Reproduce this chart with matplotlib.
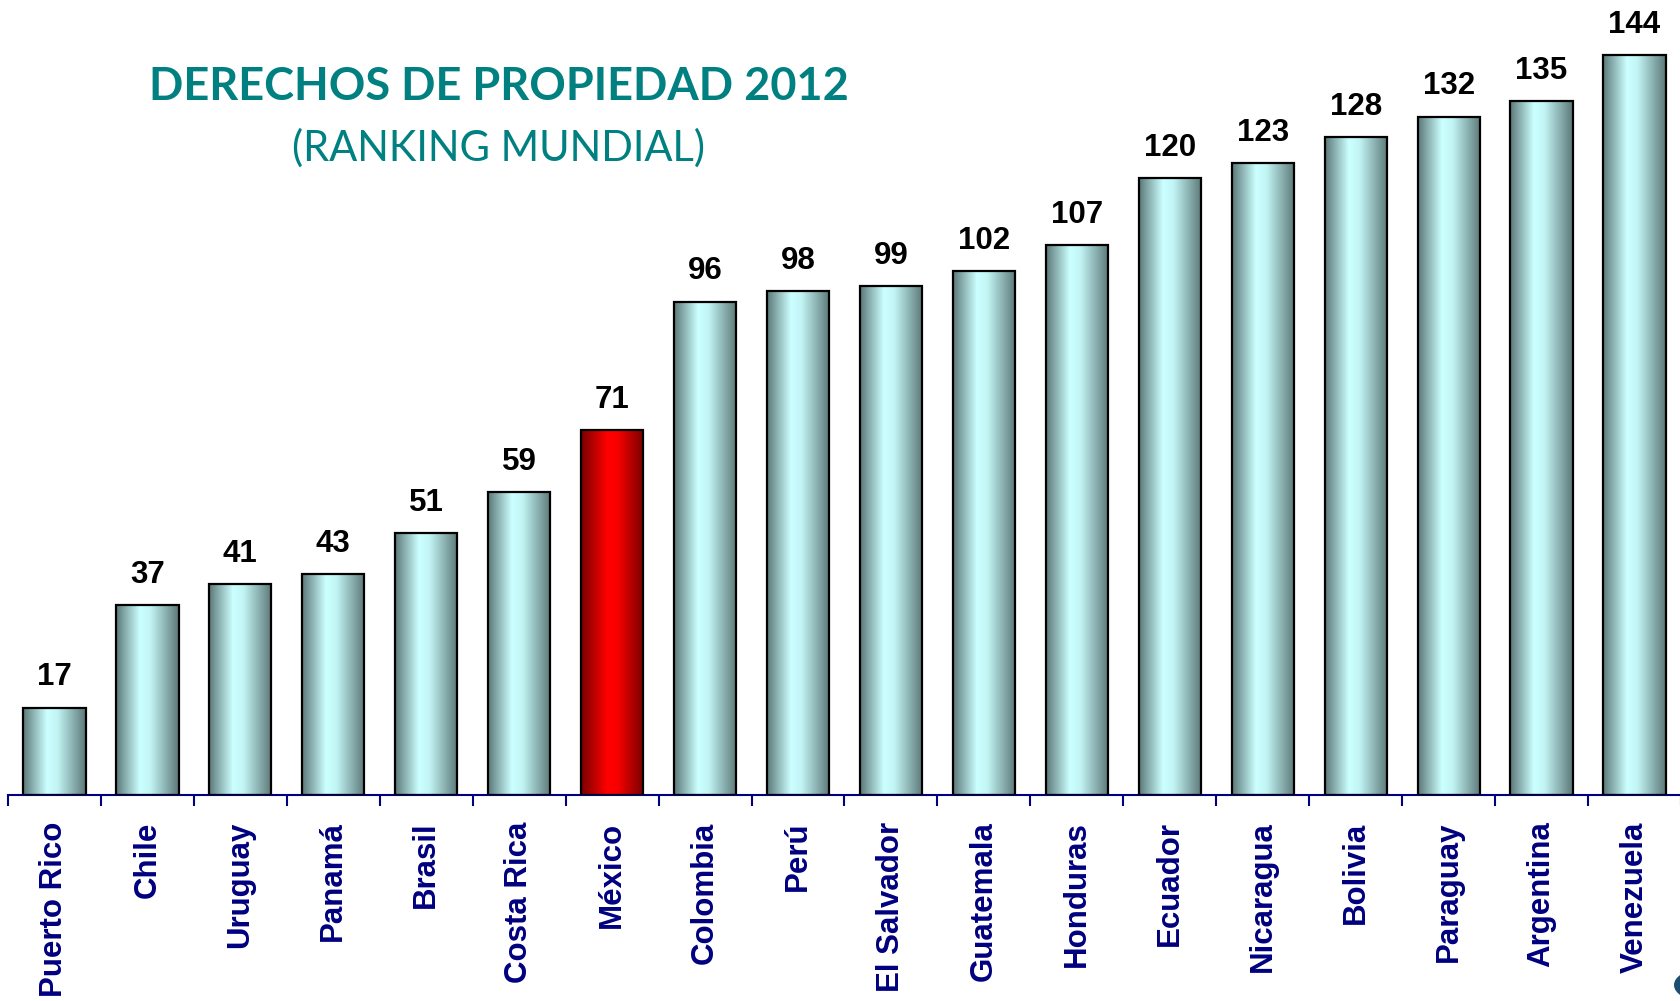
import numpy as np
import matplotlib
matplotlib.use('Agg')
import matplotlib.pyplot as plt
from matplotlib.colors import LinearSegmentedColormap
from matplotlib.patches import Circle

# ranking values
countries = ['Puerto Rico', 'Chile', 'Uruguay', 'Panamá', 'Brasil', 'Costa Rica',
             'México', 'Colombia', 'Perú', 'El Salvador', 'Guatemala', 'Honduras',
             'Ecuador', 'Nicaragua', 'Bolivia', 'Paraguay', 'Argentina', 'Venezuela']
ranking = [17, 37, 41, 43, 51, 59, 71, 96, 98, 99, 102, 107, 120, 123, 128, 132, 135, 144]
highlight = 'México'

title = 'DERECHOS DE PROPIEDAD 2012'
subtitle = '(RANKING MUNDIAL)'

W, H = 1681, 1001
fig = plt.figure(figsize=(W / 100, H / 100), dpi=100)
ax = fig.add_axes([8 / W, (H - 795) / H, (W - 8) / W, 795 / H])

# cylinder style shading for the bars
cm_teal = LinearSegmentedColormap.from_list(
    'teal', [(0, '#5c7878'), (0.38, '#ccffff'), (0.55, '#c2f4f4'), (1, '#5c7878')])
cm_red = LinearSegmentedColormap.from_list(
    'red', [(0, '#780000'), (0.42, '#ff0000'), (0.58, '#f80000'), (1, '#780000')])
grad = np.linspace(0, 1, 256).reshape(1, -1)

bw = 0.67
x = np.arange(len(countries))
bars = ax.bar(x, ranking, width=bw, facecolor='none', edgecolor='black',
              linewidth=1.6, zorder=3)
for b, name in zip(bars, countries):
    cm = cm_red if name == highlight else cm_teal
    x0 = b.get_x()
    ax.imshow(grad, cmap=cm, aspect='auto', zorder=2,
              extent=[x0, x0 + b.get_width(), 0, b.get_height()])

for xi, v in zip(x, ranking):
    ax.annotate(str(v), (xi, v), xytext=(0, 16), textcoords='offset points',
                ha='center', va='baseline', fontsize=22.5, fontweight='bold',
                family='Liberation Sans', color='black')

ax.set_xlim(-0.5, len(countries) - 0.5)
ax.set_ylim(0, 154.7)
ax.set_yticks([])
for s in ['top', 'right', 'left']:
    ax.spines[s].set_visible(False)
ax.spines['bottom'].set_color('#000080')
ax.spines['bottom'].set_linewidth(1.5)

ax.set_xticks(x)
ax.set_xticklabels(countries, rotation=90, fontsize=22.5, fontweight='bold',
                   family='Liberation Sans', color='#000080')
ax.set_xticks(np.arange(-0.5, len(countries), 1), minor=True)
ax.tick_params(axis='x', which='major', length=0, pad=19)
ax.tick_params(axis='x', which='minor', length=8, width=1.5, color='#000080')

fig.text(499 / W, 1 - 87 / H, title, ha='center', va='center', fontsize=32.5,
         fontweight='bold', family='Lato', color='#008080')
fig.text(499 / W, 1 - 148 / H, subtitle, ha='center', va='center', fontsize=30,
         family='Lato', color='#008080')

# bit of a logo peeking in at the corner
fig.patches.append(Circle((1700 / W, 1 - 985 / H), 26 / W, transform=fig.transFigure,
                          facecolor='#1b4f72', edgecolor='none'))

plt.savefig('out.png', dpi=100)
